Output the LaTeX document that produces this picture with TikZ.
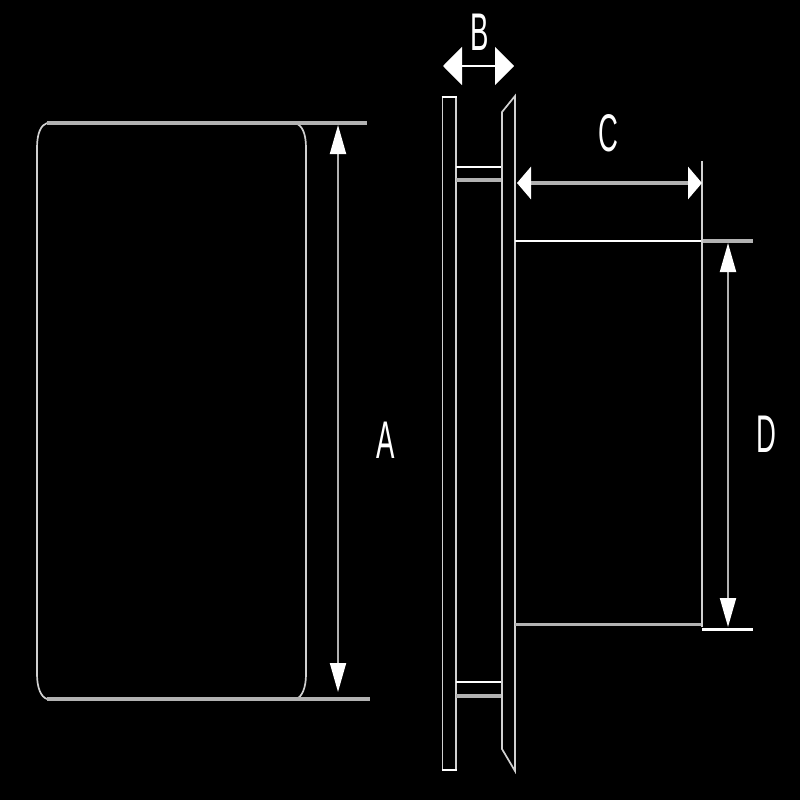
\documentclass[tikz,border=0pt]{standalone}
\usepackage{fontspec}
\setmainfont{Liberation Sans}
\usetikzlibrary{arrows.meta}
\definecolor{edge}{gray}{0.82}
\definecolor{thick}{gray}{0.7}
\tikzset{
  thin line/.style={draw=edge,line width=1.7pt},
  heavy line/.style={draw=thick,line width=3.5pt},
  bright line/.style={draw=white,line width=2.6pt},
  dimA/.style={draw=thick,line width=2pt,{Triangle[length=29pt,width=16pt,fill=white,color=white]}-{Triangle[length=29pt,width=16pt,fill=white,color=white]}},
  dimB/.style={draw=white,line width=2pt,{Triangle[length=19pt,width=38pt,fill=white,color=white]}-{Triangle[length=19pt,width=38pt,fill=white,color=white]}},
  dimC/.style={draw=thick,line width=4.5pt,{Triangle[length=14pt,width=32pt,fill=white,color=white]}-{Triangle[length=14pt,width=32pt,fill=white,color=white]}},
  letter/.style={text=white,inner sep=0pt,font=\fontsize{53}{53}\selectfont,xscale=0.52}
}
\begin{document}
\begin{tikzpicture}[x=1pt,y=-1pt]
\useasboundingbox[fill=black] (0,0) rectangle (800,800);
% face view
\draw[thin line] (47,123) .. controls (41,125) and (37,133) .. (37,148) -- (37,674)
  .. controls (37,688) and (41,697) .. (47,699);
\draw[thin line] (295,123) .. controls (302,125) and (306,133) .. (306,148) -- (306,674)
  .. controls (306,688) and (302,697) .. (296,699);
\draw[heavy line] (47,123) -- (367,123);
\draw[heavy line] (47,699) -- (370,699);
% side view plate
\draw[thin line] (442.5,97) -- (442.5,770);
\draw[thin line] (456,97) -- (456,770);
\draw[bright line] (441.5,97) -- (457,97);
\draw[bright line] (441.5,770) -- (457,770);
% spacers
\draw[bright line] (456,167) -- (502,167);
\draw[heavy line] (456,180) -- (502,180);
\draw[bright line] (456,682) -- (502,682);
\draw[heavy line] (456,696) -- (502,696);
% side view body flange
\draw[thin line] (515,96) -- (515,771) -- (502,749) -- (502,112) -- cycle;
% body
\draw[bright line] (515,241) -- (702,241);
\draw[heavy line] (702,241) -- (753,241);
\draw[heavy line] (515,624.5) -- (702,624.5);
\draw[thin line] (702,161) -- (702,627);
\draw[bright line] (702,629.5) -- (753,629.5);
% dimensions
\coordinate (aTop) at (338,125);
\coordinate (aBot) at (338,692);
\coordinate (bL) at (443,66);
\coordinate (bR) at (514,66);
\coordinate (cL) at (517,183);
\coordinate (cR) at (702,183);
\coordinate (dTop) at (728,243);
\coordinate (dBot) at (728,627);
\draw[dimA] (aTop) -- (aBot);
\draw[dimB] (bL) -- (bR);
\draw[dimC] (cL) -- (cR);
\draw[dimA] (dTop) -- (dBot);
\node[letter] (labelA) at (385.5,440) {A};
\node[letter] (labelB) at (479.5,32) {B};
\node[letter] (labelC) at (608,133) {C};
\node[letter] (labelD) at (766,434) {D};
\end{tikzpicture}
\end{document}
